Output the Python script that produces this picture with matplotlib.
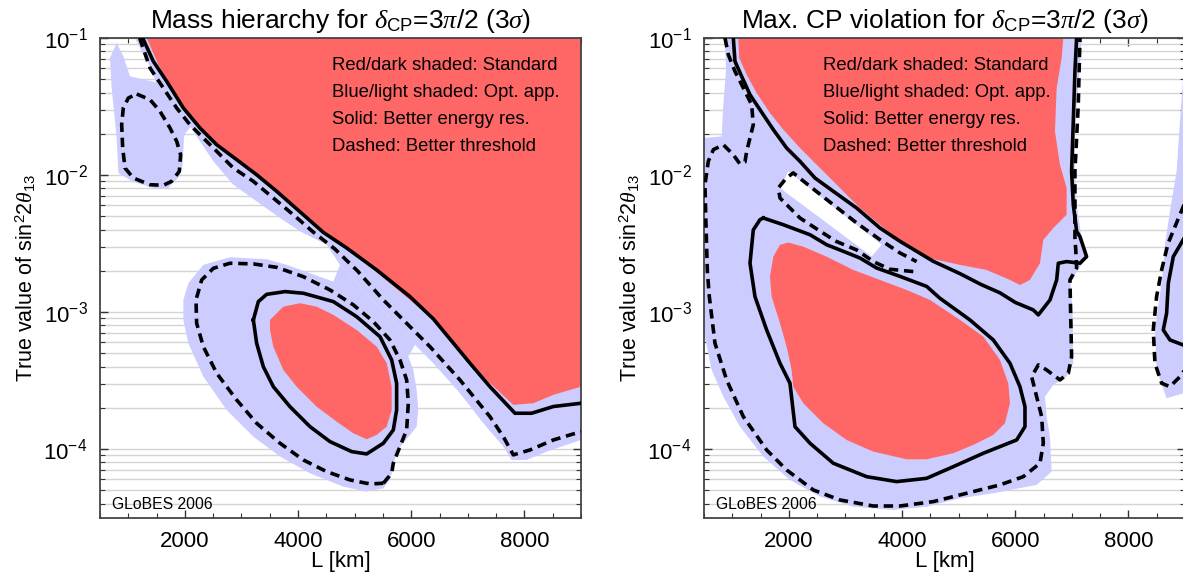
import numpy as np
import matplotlib.pyplot as plt
from matplotlib.ticker import MultipleLocator, LogLocator, NullFormatter

plt.rcParams['font.family'] = ['Liberation Sans', 'DejaVu Sans']
plt.rcParams['mathtext.fontset'] = 'custom'
plt.rcParams['mathtext.rm'] = 'Liberation Sans'
plt.rcParams['mathtext.sf'] = 'Liberation Sans'
plt.rcParams['mathtext.it'] = 'Liberation Serif:italic'
plt.rcParams['mathtext.bf'] = 'Liberation Sans:bold'

RED = '#ff6666'
BLUE = '#ccccff'

# all shapes: (L [km], log10 of sin^2 2theta13)

# ---- mass hierarchy panel
mh_red_top = [(1325, -1.0), (1531, -1.195), (1737, -1.341), (2031, -1.535), (2326, -1.681),
              (2620, -1.803), (2974, -1.912), (3327, -2.022), (3681, -2.144), (4152, -2.314),
              (4550, -2.44), (4900, -2.54), (5300, -2.68), (5978, -2.912), (6390, -3.058),
              (6861, -3.277), (7333, -3.496), (7804, -3.678), (8157, -3.666), (8511, -3.605),
              (9000, -3.545), (9000, -1.0)]
mh_red_ellipse = [(3504, -3.058), (3740, -2.961), (4034, -2.936), (4329, -2.961), (4623, -3.021),
                  (5035, -3.131), (5389, -3.253), (5566, -3.374), (5654, -3.545), (5654, -3.715),
                  (5566, -3.837), (5389, -3.897), (5212, -3.929), (4977, -3.885), (4682, -3.800),
                  (4329, -3.691), (3975, -3.545), (3740, -3.423), (3563, -3.253), (3504, -3.131)]
mh_blue_blob = [(677, -1.146), (795, -1.036), (912, -1.134), (1030, -1.280), (1560, -1.33),
                (1850, -1.49), (2120, -1.64), (2000, -1.70), (1984, -1.73), (1961, -1.925),
                (1902, -2.010), (1707, -2.095), (1501, -2.100), (1089, -2.051), (824, -1.985),
                (795, -1.730), (706, -1.365)]
mh_blue_band = [(1118, -1.0), (1266, -1.122), (1413, -1.231), (1501, -1.341), (1796, -1.487),
                (2090, -1.645), (2267, -1.754), (2503, -1.900), (2856, -2.071), (3268, -2.192),
                (3681, -2.314), (4034, -2.411), (4505, -2.509), (4741, -2.656), (6066, -3.240),
                (6390, -3.374), (6861, -3.593), (7274, -3.812), (7627, -3.982), (7774, -4.080),
                (8039, -4.080), (8393, -4.019), (9000, -3.934), (9000, -3.0), (7000, -3.0),
                (5000, -2.3), (3000, -1.7), (1600, -1.0)]
mh_blue_ellipse = [(1973, -2.912), (2061, -2.790), (2326, -2.656), (2797, -2.600), (3445, -2.615),
                   (3799, -2.656), (4211, -2.717), (4623, -2.778), (4741, -2.656), (6066, -3.240),
                   (5948, -3.326), (6037, -3.423), (6096, -3.569), (6125, -3.715), (6096, -3.837),
                   (5860, -3.958), (5742, -4.019), (5683, -4.129), (5624, -4.226), (5507, -4.287),
                   (5212, -4.311), (4800, -4.275), (4211, -4.177), (3681, -4.055), (3210, -3.910),
                   (2738, -3.715), (2326, -3.472), (2061, -3.228), (1973, -3.058)]
mh_solid_upper = [(1254, -1.0), (1442, -1.17), (1678, -1.316), (1973, -1.511), (2267, -1.657),
                  (2562, -1.779), (2915, -1.888), (3268, -1.998), (3622, -2.119), (4093, -2.29),
                  (4450, -2.42), (4850, -2.53), (5389, -2.693), (5978, -2.888), (6390, -3.05),
                  (7038, -3.374), (7391, -3.545), (7833, -3.739), (8127, -3.739), (8511, -3.69),
                  (9000, -3.666)]
mh_solid_ellipse = [(3210, -3.058), (3298, -2.924), (3445, -2.871), (3769, -2.851), (4093, -2.863),
                    (4623, -2.924), (5035, -3.034), (5448, -3.180), (5654, -3.350), (5742, -3.520),
                    (5742, -3.715), (5683, -3.861), (5507, -3.958), (5212, -4.036), (4947, -4.019),
                    (4564, -3.946), (4211, -3.837), (3857, -3.691), (3563, -3.545), (3386, -3.399),
                    (3268, -3.228), (3210, -3.058)]
mh_dashed_upper = [(1200, -1.0), (1384, -1.219), (1619, -1.365), (1855, -1.511), (2090, -1.633),
                   (2326, -1.730), (2562, -1.827), (2856, -1.949), (3209, -2.046), (3563, -2.168),
                   (3916, -2.290), (4250, -2.41), (4650, -2.54), (5050, -2.70), (5507, -2.912),
                   (5978, -3.107), (6331, -3.253), (6861, -3.496), (7391, -3.764), (7627, -3.910),
                   (7804, -4.043), (8098, -4.007), (8511, -3.934), (9000, -3.873)]
mh_dashed_ellipse = [(5507, -4.250), (5654, -4.177), (5683, -4.104), (5801, -3.982), (5919, -3.861),
                     (5948, -3.666), (5919, -3.496), (5801, -3.350), (5624, -3.204), (5330, -3.070),
                     (4977, -2.948), (4564, -2.839), (4093, -2.742), (3622, -2.674), (3210, -2.649),
                     (2797, -2.644), (2503, -2.681), (2297, -2.766), (2196, -2.912), (2208, -3.082),
                     (2326, -3.253), (2562, -3.447), (2915, -3.642), (3268, -3.812), (3681, -3.958),
                     (4093, -4.080), (4505, -4.165), (4918, -4.226), (5271, -4.255), (5507, -4.250)]
mh_dashed_blob = [(1148, -1.409), (1384, -1.450), (1560, -1.535), (1737, -1.657), (1855, -1.754),
                  (1925, -1.852), (1902, -1.973), (1766, -2.046), (1619, -2.075), (1384, -2.071),
                  (1089, -2.022), (942, -1.949), (901, -1.803), (883, -1.633), (912, -1.511),
                  (1001, -1.438), (1148, -1.409)]

# ---- CP violation panel
cp_blue_main = [(871, -1.0), (7173, -1.0), (7144, -1.195), (7085, -1.487), (7055, -1.730),
                (7055, -1.973), (7085, -2.217), (7173, -2.460), (7261, -2.606), (7085, -2.705),
                (6979, -2.790), (7014, -3.009), (7026, -3.374), (6908, -3.472), (6673, -3.532),
                (6525, -3.618), (6555, -3.764), (6614, -3.910), (6643, -4.165), (6378, -4.262),
                (5612, -4.323), (5023, -4.360), (4434, -4.421), (3845, -4.445), (3138, -4.421),
                (2549, -4.347), (2019, -4.226), (1548, -4.055), (1136, -3.837), (842, -3.618),
                (635, -3.423), (500, -3.155), (500, -1.73), (812, -1.718), (841, -1.487),
                (888, -1.243)]
cp_blue_right = [(9000, -1.25), (8964, -1.316), (8911, -1.608), (8852, -1.973), (8734, -2.265),
                 (8646, -2.509), (8600, -2.75), (8530, -2.95), (8469, -3.131), (8498, -3.423),
                 (8675, -3.630), (9000, -3.59)]
cp_white_strip = [(1843, -2.095), (1990, -1.973), (3639, -2.509), (3462, -2.594)]
cp_red_top = [(1106, -1.0), (1124, -1.146), (1254, -1.268), (1430, -1.401), (1666, -1.547),
              (1902, -1.669), (2196, -1.803), (2549, -1.949), (2903, -2.095), (3256, -2.241),
              (3609, -2.363), (3963, -2.484), (4258, -2.547), (4493, -2.608), (5023, -2.656),
              (5494, -2.693), (5907, -2.766), (6083, -2.803), (6260, -2.766), (6437, -2.644),
              (6496, -2.474), (6673, -2.387), (6908, -2.290), (6908, -2.095), (6790, -1.925),
              (6702, -1.681), (6732, -1.365), (6820, -1.146), (6849, -1.0)]
cp_red_lower = [(1666, -2.742), (1725, -2.596), (1843, -2.510), (1990, -2.493), (2255, -2.523),
                (2667, -2.596), (3138, -2.693), (3610, -2.766), (4081, -2.839), (4493, -2.912),
                (5023, -3.058), (5436, -3.180), (5730, -3.350), (5877, -3.520), (5907, -3.666),
                (5818, -3.812), (5612, -3.897), (5259, -3.970), (4905, -4.031), (4434, -4.075),
                (4081, -4.075), (3492, -4.019), (3021, -3.934), (2608, -3.812), (2255, -3.666),
                (2078, -3.545), (2049, -3.423), (1960, -3.253), (1843, -3.082), (1695, -2.888)]
cp_solid_upper = [(1018, -1.0), (1047, -1.17), (1165, -1.28), (1313, -1.414), (1548, -1.56),
                  (1725, -1.669), (1960, -1.803), (2196, -1.9), (2461, -2.022), (2785, -2.119),
                  (3197, -2.241), (3610, -2.387), (3963, -2.484), (4258, -2.557), (4552, -2.63),
                  (5023, -2.72), (5400, -2.80), (5730, -2.86), (6000, -2.93), (6319, -2.985),
                  (6408, -3.021), (6614, -2.912), (6732, -2.766), (6761, -2.644), (6908, -2.632),
                  (7144, -2.644), (7261, -2.596), (7203, -2.523), (7144, -2.45), (7085, -2.411),
                  (7026, -2.217), (6996, -1.973), (7026, -1.608), (7055, -1.243), (7085, -1.0)]
cp_solid_loop = [(1548, -2.314), (1902, -2.363), (2373, -2.436), (2667, -2.509), (2962, -2.557),
                 (3256, -2.606), (3551, -2.679), (3963, -2.740), (4434, -2.813), (4670, -2.90),
                 (5200, -3.058), (5612, -3.204), (5907, -3.374), (6083, -3.545), (6172, -3.691),
                 (6172, -3.837), (6025, -3.934), (5436, -4.031), (4905, -4.129), (4434, -4.214),
                 (3904, -4.238), (3374, -4.202), (2785, -4.104), (2373, -3.958), (2108, -3.837),
                 (2019, -3.520), (1843, -3.374), (1607, -3.131), (1401, -2.888), (1313, -2.644),
                 (1371, -2.401), (1489, -2.326), (1548, -2.314)]
cp_dashed_outer = [(871, -1.0), (930, -1.122), (1047, -1.243), (1195, -1.365), (1342, -1.487),
                   (1371, -1.633), (1313, -1.730), (1254, -1.827), (1224, -1.905), (1136, -1.920),
                   (1018, -1.852), (841, -1.779), (665, -1.815), (576, -1.900), (517, -2.071),
                   (535, -2.363), (559, -2.70), (594, -2.888), (694, -3.228), (900, -3.496),
                   (1195, -3.764), (1607, -4.007), (1960, -4.153), (2432, -4.299), (2903, -4.372),
                   (3492, -4.416), (3963, -4.416), (4552, -4.384), (5141, -4.323), (5730, -4.262),
                   (6142, -4.202), (6437, -4.104), (6496, -3.958), (6467, -3.764), (6378, -3.618),
                   (6290, -3.472), (6408, -3.386), (6555, -3.423), (6790, -3.496), (6938, -3.447),
                   (6996, -3.326), (6979, -3.009), (6967, -2.766), (7085, -2.68), (7070, -2.55),
                   (7055, -2.460), (7055, -1.973), (7114, -1.487), (7144, -1.0)]
cp_dashed_strip = [(4199, -2.705), (3786, -2.688), (3492, -2.632), (3197, -2.547), (2844, -2.486),
                   (2608, -2.425), (2196, -2.314), (1843, -2.168), (1813, -2.095), (1960, -2.02),
                   (2078, -1.985), (2373, -2.083), (2785, -2.217), (3197, -2.35), (3610, -2.472),
                   (3963, -2.569), (4258, -2.632)]
cp_dashed_right = [(9000, -2.20), (8850, -2.35), (8700, -2.50), (8587, -2.693), (8498, -2.888),
                   (8439, -3.131), (8469, -3.374), (8587, -3.520), (8734, -3.545), (8911, -3.472),
                   (9000, -3.42)]
cp_solid_right = [(9000, -2.45), (8793, -2.596), (8705, -2.790), (8675, -3.009), (8616, -3.131),
                  (8734, -3.204), (8964, -3.240), (9000, -3.245)]

titles = [r'Mass hierarchy for $\delta_{\rm CP}$=3$\pi$/2 (3$\sigma$)',
          r'Max. CP violation for $\delta_{\rm CP}$=3$\pi$/2 (3$\sigma$)']
notes = ['Red/dark shaded: Standard', 'Blue/light shaded: Opt. app.',
         'Solid: Better energy res.', 'Dashed: Better threshold']
note_x = [0.482, 0.248]


def xy(pts):
    a = np.array(pts, dtype=float)
    return a[:, 0], 10 ** a[:, 1]


def fill(ax, pts, color, z):
    x, y = xy(pts)
    ax.fill(x, y, color=color, lw=0, zorder=z)


def line(ax, pts, dashed=False):
    x, y = xy(pts)
    if dashed:
        ax.plot(x, y, color='black', lw=2.6, ls=(0, (2.6, 1.6)), dash_capstyle='butt', zorder=4)
    else:
        ax.plot(x, y, color='black', lw=2.6, solid_joinstyle='round', zorder=4)


fig = plt.figure(figsize=(11.83, 5.77), dpi=100)
ax1 = fig.add_axes([100 / 1183, 1 - 517.5 / 577, 481 / 1183, 479.5 / 577])
ax2 = fig.add_axes([704 / 1183, 1 - 517.5 / 577, 481 / 1183, 479.5 / 577])

# mass hierarchy
fill(ax1, mh_blue_blob, BLUE, 1)
fill(ax1, mh_blue_band, BLUE, 1)
fill(ax1, mh_blue_ellipse, BLUE, 1)
fill(ax1, mh_red_top, RED, 2)
fill(ax1, mh_red_ellipse, RED, 2)
line(ax1, mh_solid_upper)
line(ax1, mh_solid_ellipse)
line(ax1, mh_dashed_upper, True)
line(ax1, mh_dashed_ellipse, True)
line(ax1, mh_dashed_blob, True)

# CP violation
fill(ax2, cp_blue_main, BLUE, 1)
fill(ax2, cp_blue_right, BLUE, 1)
fill(ax2, cp_white_strip, 'white', 1.5)
fill(ax2, cp_red_top, RED, 2)
fill(ax2, cp_red_lower, RED, 2)
line(ax2, cp_solid_upper)
line(ax2, cp_solid_loop)
line(ax2, cp_solid_right)
line(ax2, cp_dashed_outer, True)
line(ax2, cp_dashed_strip, True)
line(ax2, cp_dashed_right, True)

for i, ax in enumerate([ax1, ax2]):
    ax.set_yscale('log')
    ax.set_xlim(500, 9000)
    ax.set_ylim(10 ** -4.5, 0.1)
    ax.xaxis.set_major_locator(MultipleLocator(2000))
    ax.xaxis.set_minor_locator(MultipleLocator(500))
    ax.yaxis.set_major_locator(LogLocator(base=10))
    ax.yaxis.set_minor_locator(LogLocator(base=10, subs=np.arange(2, 10)))
    ax.yaxis.set_minor_formatter(NullFormatter())
    ax.yaxis.grid(True, which='both', color='#d4d4d4', lw=1.0, zorder=0)
    ax.set_axisbelow(True)
    ax.tick_params(which='both', direction='in', top=True, right=True,
                   color='#333333', labelsize=16)
    ax.tick_params(which='major', length=6, width=1.0)
    ax.tick_params(which='minor', length=3.5, width=0.8)
    ax.tick_params(axis='x', pad=10)
    ax.tick_params(axis='y', pad=9)
    for s in ax.spines.values():
        s.set_color('#444444')
        s.set_linewidth(1.3)
    ax.set_xlabel('L [km]', fontsize=16, labelpad=-1)
    ax.set_ylabel(r'True value of sin$^2$2$\theta_{13}$', fontsize=15.5, labelpad=4)
    ax.set_title(titles[i], fontsize=19, pad=7)
    for k, t in enumerate(notes):
        ax.text(note_x[i], 0.943 - k * 0.0565, t, transform=ax.transAxes,
                fontsize=13.3, va='center', ha='left', zorder=6)
    ax.text(0.025, 0.028, 'GLoBES 2006', transform=ax.transAxes,
            fontsize=11.3, va='center', ha='left', zorder=6)

fig.savefig('out.png', dpi=100)
